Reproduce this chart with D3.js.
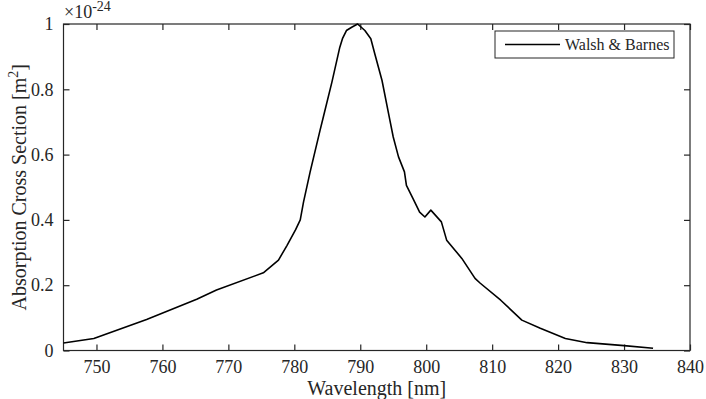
<!DOCTYPE html>
<html><head><meta charset="utf-8">
<script src="https://cdn.jsdelivr.net/npm/d3@7"></script>
<style>body{margin:0;background:#fff}svg{display:block}svg text{font-family:"Liberation Serif","DejaVu Serif","Times New Roman",Times,serif !important;fill:#262626}</style>
</head><body>
<script>
const wavelength = [745, 749.6, 757.6, 765.2, 768.2, 775.3, 777.6, 778.9, 780.2, 780.9, 781.4, 782.4, 783.9, 784.4, 785.7, 786.9, 787.3, 787.9, 788.7, 789.6, 790.7, 791.6, 792.2, 793.3, 794.3, 795.0, 795.8, 796.7, 797.0, 798.0, 799.0, 799.8, 800.7, 802.3, 803.1, 805.4, 807.4, 808.2, 811.3, 814.5, 817.3, 821.1, 824.4, 830, 834.4];
const crossSection = [0.023, 0.037, 0.095, 0.157, 0.185, 0.238, 0.277, 0.322, 0.37, 0.40, 0.455, 0.547, 0.674, 0.715, 0.822, 0.929, 0.955, 0.98, 0.99, 1.0, 0.98, 0.955, 0.909, 0.827, 0.725, 0.654, 0.593, 0.547, 0.506, 0.465, 0.424, 0.409, 0.430, 0.394, 0.338, 0.282, 0.221, 0.206, 0.154, 0.093, 0.068, 0.037, 0.024, 0.015, 0.007];
const xTicks = [750, 760, 770, 780, 790, 800, 810, 820, 830, 840];
const yTicks = [0, 0.2, 0.4, 0.6, 0.8, 1];
const seriesName = "Walsh & Barnes";

const W = 706, H = 399;
const m = {l: 63.5, r: 16, t: 24, b: 48.5};
const svg = d3.select("body").append("svg").attr("width", W).attr("height", H);
const x = d3.scaleLinear().domain([745, 840]).range([m.l, W - m.r]);
const y = d3.scaleLinear().domain([0, 1]).range([H - m.b, m.t]);
const col = "#262626";

svg.append("rect").attr("x", x(745)).attr("y", y(1)).attr("width", x(840) - x(745)).attr("height", y(0) - y(1))
  .attr("fill", "none").attr("stroke", col).attr("stroke-width", 1.2);

const fmt = d => d === 0 ? "0" : d === 1 ? "1" : d3.format(".1f")(d);
const xb = svg.append("g").attr("transform", `translate(0,${y(0)})`)
  .call(d3.axisBottom(x).tickValues(xTicks).tickSizeInner(-6).tickSizeOuter(0).tickPadding(10));
const xt = svg.append("g").attr("transform", `translate(0,${y(1)})`)
  .call(d3.axisTop(x).tickValues(xTicks).tickSizeInner(-6).tickSizeOuter(0).tickFormat(""));
const yl = svg.append("g").attr("transform", `translate(${x(745)},0)`)
  .call(d3.axisLeft(y).tickValues(yTicks).tickSizeInner(-6).tickSizeOuter(0).tickPadding(10).tickFormat(fmt));
const yr = svg.append("g").attr("transform", `translate(${x(840)},0)`)
  .call(d3.axisRight(y).tickValues(yTicks).tickSizeInner(-6).tickSizeOuter(0).tickFormat(""));
[xb, xt, yl, yr].forEach(g => {
  g.attr("font-family", null).attr("font-size", null);
  g.select(".domain").remove();
  g.selectAll(".tick line").attr("stroke", col).attr("stroke-width", 1.2);
  g.selectAll(".tick text").attr("font-size", 18).attr("fill", col);
});
xb.selectAll(".tick text").attr("dy", "0.71em");

svg.append("path").datum(wavelength.map((w, i) => [w, crossSection[i]]))
  .attr("fill", "none").attr("stroke", "#000").attr("stroke-width", 1.6).attr("stroke-linejoin", "round")
  .attr("d", d3.line().x(d => x(d[0])).y(d => y(d[1])));

const ex = svg.append("text").attr("x", 64).attr("y", 18).attr("font-size", 18);
ex.append("tspan").text("\u00d710");
ex.append("tspan").attr("dy", -7).attr("font-size", 14).text("-24");

svg.append("text").attr("x", (x(745) + x(840)) / 2).attr("y", 395).attr("text-anchor", "middle")
  .attr("font-size", 20).text("Wavelength [nm]");
const ylab = svg.append("text").attr("transform", `translate(26,${(y(0) + y(1)) / 2}) rotate(-90)`)
  .attr("text-anchor", "middle").attr("font-size", 20);
ylab.append("tspan").text("Absorption Cross Section [m");
ylab.append("tspan").attr("dy", -8).attr("font-size", 14).text("2");
ylab.append("tspan").attr("dy", 8).text("]");

const lg = svg.append("g");
lg.append("rect").attr("x", 495).attr("y", 31).attr("width", 179).attr("height", 27)
  .attr("fill", "#fff").attr("stroke", col).attr("stroke-width", 1);
lg.append("line").attr("x1", 505).attr("x2", 560).attr("y1", 44.5).attr("y2", 44.5).attr("stroke", "#000").attr("stroke-width", 1.6);
lg.append("text").attr("x", 565).attr("y", 50).attr("font-size", 16).text(seriesName);
</script>
</body></html>
